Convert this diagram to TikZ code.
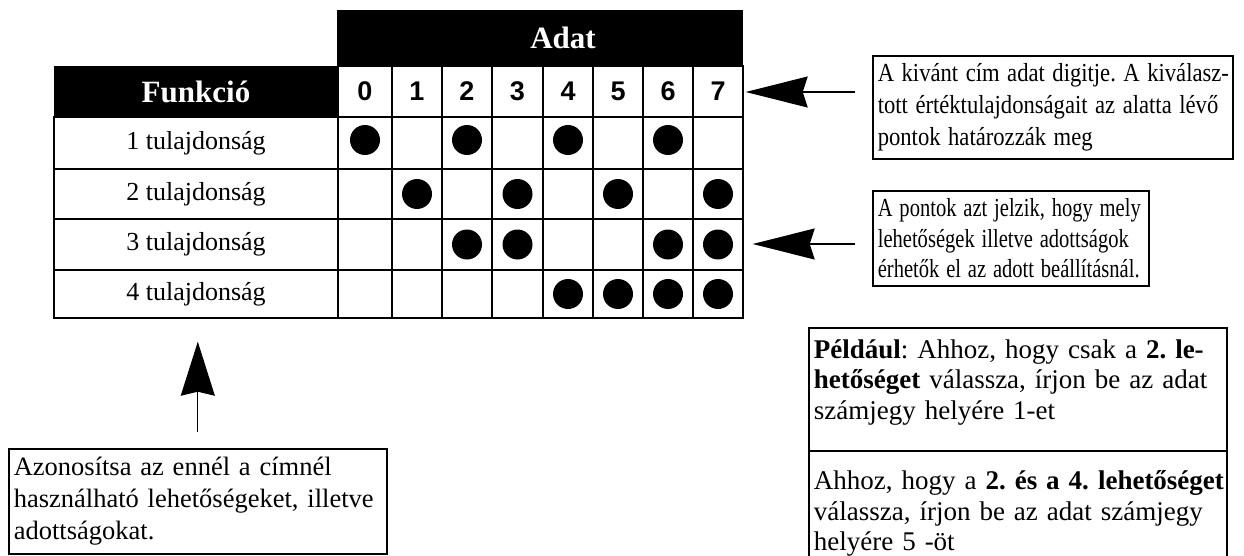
\documentclass[tikz,border=0pt]{standalone}
\usepackage{fontspec}
\setmainfont{Liberation Serif}
\newfontfamily\digitfont{Liberation Sans}
\usetikzlibrary{arrows.meta}
\newcommand\sqzA[1]{\scalebox{0.87}[1]{#1}}
\newcommand\sqzB[1]{\scalebox{0.79}[1]{#1}}
\tikzset{
  tbl/.style={draw, line width=1.4pt, inner sep=0pt},
  hdr/.style={fill=black, text=white, inner sep=0pt, font=\bfseries\fontsize{31}{36}\selectfont},
  digit/.style={tbl, font=\digitfont\bfseries\fontsize{27}{30}\selectfont},
  rowlab/.style={tbl, minimum width=284pt, font=\fontsize{26}{30}\selectfont},
  dot/.style={circle, fill=black, minimum size=30pt, inner sep=0pt},
  textbox/.style={draw, line width=1.6pt, anchor=north west, align=left, inner xsep=5pt, inner ysep=0pt},
  conn/.style={line width=1.3pt},
  bighead/.style={-{Stealth[length=62pt,width=31pt,inset=5pt]}},
  uphead/.style={-{Stealth[length=54pt,width=34pt,inset=4pt]}}
}
\begin{document}
\frenchspacing
\begin{tikzpicture}[x=1pt,y=-1pt]
\useasboundingbox (0,0) rectangle (1244,556);
\clip (0,0) rectangle (1244,556);
\fill[white] (0,0) rectangle (1244,556);

% headers
\node[hdr, minimum width=406pt, minimum height=56pt] (adat) at (540,38) {\hspace{46pt}Adat};
\node[hdr, minimum width=284pt, minimum height=51pt] (funk) at (196,91.5) {Funkci\'o\hspace{26pt}};

% digit row
\foreach \ci/\lx/\rx in {0/338/392,1/392/442,2/442/492,3/492/543,4/543/593,5/593/643,6/643/693,7/693/743}{
  \pgfmathsetmacro\cw{\rx-\lx}
  \pgfmathsetmacro\cx{(\lx+\rx)/2}
  \node[digit, minimum width=\cw pt, minimum height=51pt] (d\ci) at (\cx,91.5) {\ci};
}

% rows
\foreach \ri/\ty/\by in {1/117/169,2/169/219,3/219/270,4/270/318}{
  \pgfmathsetmacro\rh{\by-\ty}
  \pgfmathsetmacro\ry{(\ty+\by)/2}
  \node[rowlab, minimum height=\rh pt] (r\ri) at (196,\ry) {\ri\ tulajdons\'ag};
  \foreach \ci/\lx/\rx in {0/338/392,1/392/442,2/442/492,3/492/543,4/543/593,5/593/643,6/643/693,7/693/743}{
    \pgfmathsetmacro\cw{\rx-\lx}
    \pgfmathsetmacro\cx{(\lx+\rx)/2}
    \node[tbl, minimum width=\cw pt, minimum height=\rh pt] (g\ri\ci) at (\cx,\ry) {};
  }
}

% dots
\foreach \ci in {0,2,4,6} \node[dot] (p1\ci) at ([yshift=3pt]g1\ci) {};
\foreach \ci in {1,3,5,7} \node[dot] (p2\ci) at (g2\ci) {};
\foreach \ci in {2,3,6,7} \node[dot] (p3\ci) at (g3\ci) {};
\foreach \ci in {4,5,6,7} \node[dot] (p4\ci) at (g4\ci) {};

% text boxes
\node[textbox, text width=350pt, minimum height=103pt, font=\fontsize{26}{32}\selectfont] (info1) at (872,55)
 {\sqzA{A kivánt cím adat digitje. A kiválasz-}\\\sqzA{tott értéktulajdonságait az alatta lévő}\\\sqzA{pontok határozzák meg}};
\node[textbox, text width=266pt, minimum height=95pt, font=\fontsize{26}{30.5}\selectfont] (info2) at (872,190)
 {\sqzB{A pontok azt jelzik, hogy mely}\\\sqzB{lehetőségek illetve adottságok}\\\sqzB{érhetők el az adott beállításnál.}};
\node[textbox, text width=368pt, minimum height=105pt, font=\fontsize{26.5}{32}\selectfont] (info3) at (8,448)
 {\mbox{Azonosítsa az ennél a címnél}\\\mbox{használható lehetőségeket, illetve}\\\mbox{adottságokat.}};
\node[textbox, text width=408pt, minimum height=123pt, font=\fontsize{27}{30.5}\selectfont] (ex1) at (808,327)
 {\mbox{\textbf{Például}: Ahhoz, hogy csak a \textbf{2. le-}}\\\mbox{\textbf{hetőséget} válassza, írjon be az adat}\\\mbox{számjegy helyére 1-et}\vspace{14pt}};
\node[textbox, text width=408pt, minimum height=126pt, font=\fontsize{27}{30.5}\selectfont] (ex2) at (808,450)
 {\mbox{Ahhoz, hogy a \textbf{2. és a 4. lehetőséget}}\\\mbox{válassza, írjon be az adat számjegy}\\\mbox{helyére 5 -öt}};

% connectors
\coordinate (a1s) at (855,92);
\coordinate (a2s) at (855,244);
\draw[conn, bighead] (a1s) -- ([xshift=2pt]d7.east |- a1s);
\draw[conn, bighead] (a2s) -- ([xshift=9pt]g37.east |- a2s);
\draw[conn, uphead, shorten <=16pt, shorten >=23pt] (info3.north) -- (info3.north |- r4.south);
\end{tikzpicture}
\end{document}
